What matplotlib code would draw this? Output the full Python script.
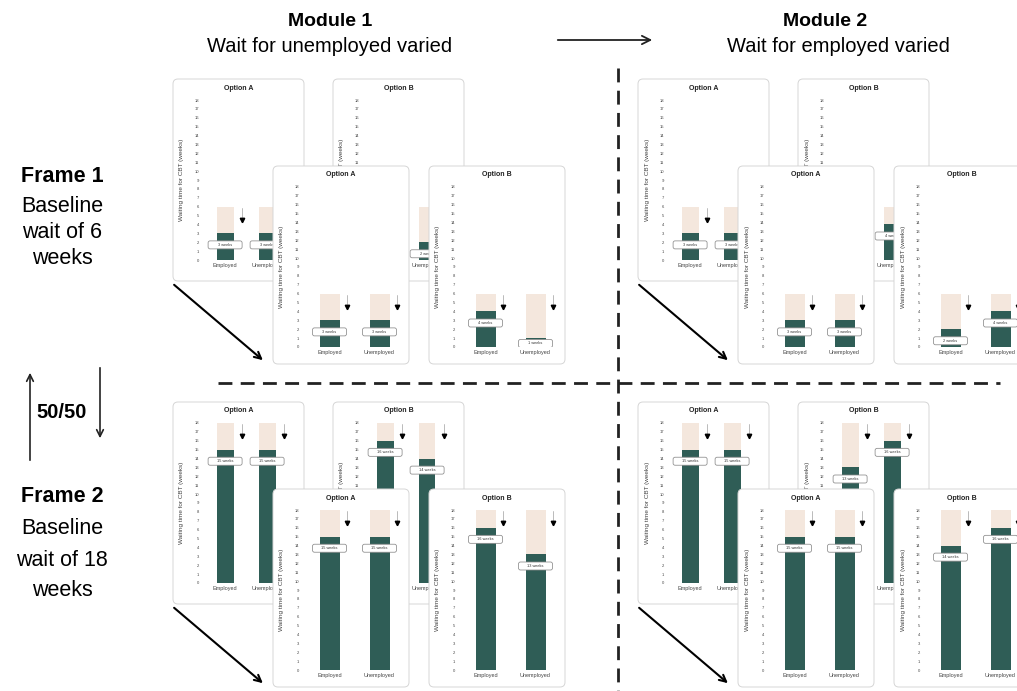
import matplotlib.pyplot as plt
from matplotlib.patches import FancyBboxPatch, FancyArrowPatch
from matplotlib.lines import Line2D

plt.rcParams['font.family'] = ['Liberation Sans', 'DejaVu Sans']

W, H = 1017, 691

# data
categories = ['Employed', 'Unemployed']
panel_titles = ['Option A', 'Option B', 'Option A', 'Option B']  # back A, back B, front A, front B
baseline_frame1 = 6
baseline_frame2 = 18
# waits in weeks [employed, unemployed] for back A, back B, front A, front B
module1_frame1 = [[3, 3], [4, 2], [3, 3], [4, 1]]
module2_frame1 = [[3, 3], [2, 4], [3, 3], [2, 4]]
module1_frame2 = [[15, 15], [16, 14], [15, 15], [16, 13]]
module2_frame2 = [[15, 15], [13, 16], [15, 15], [14, 16]]

DARK = '#2f5d56'
BEIGE = '#f4e7dd'

fig = plt.figure(figsize=(W / 100, H / 100), dpi=100)


def frect(x, y, w, h):
    return [x / W, 1 - (y + h) / H, w / W, h / H]


def fxy(x, y):
    return (x / W, 1 - y / H)


def panel(x0, y0, w, h, title, waits, base, unit, hidden_below=None):
    # the white card
    card = fig.add_axes(frect(x0, y0, w, h))
    card.set_xlim(0, w)
    card.set_ylim(0, h)
    card.set_axis_off()
    card.add_patch(FancyBboxPatch((1, 1), w - 2, h - 2,
                                  boxstyle='round,pad=0,rounding_size=5',
                                  fc='white', ec='#d6d6d6', lw=0.7))
    card.text(w / 2, h - 10, title, ha='center', va='center',
              fontsize=5, fontweight='bold', color='#222')
    card.text(10, h - 102, 'Waiting time for CBT (weeks)', rotation=90,
              ha='center', va='center', fontsize=4.6, color='#444')

    # the bar chart
    ax = fig.add_axes(frect(x0 + 30, y0 + 22, 2.15 * unit, 160))
    ax.patch.set_alpha(0)
    xs = [0, 1]
    ax.bar(xs, [base, base], width=0.4, color=BEIGE, zorder=1)
    ax.bar(xs, waits, width=0.4, color=DARK, zorder=2)
    ax.axhline(0, color='#bbbbbb', lw=0.5, ls=':', zorder=0)
    yu = 160 / 18
    for x, v in zip(xs, waits):
        ly = max(v - 1.3, 0.4)
        bw, bh = 34 / unit, 8 / yu
        ax.add_patch(FancyBboxPatch((x - bw / 2, ly - bh / 2), bw, bh,
                                    boxstyle='round,pad=0,rounding_size=%f' % (2 / unit),
                                    mutation_aspect=unit / yu,
                                    fc='white', ec='#8a8a8a', lw=0.55, zorder=3))
        ax.text(x, ly, f'{v} weeks', ha='center', va='center',
                fontsize=2.8, color='#333', zorder=4)
        xa = x + 17 / unit
        ax.plot([xa, xa], [base - 0.1, base - 1.2], color='#888', lw=0.4, zorder=3)
        ax.plot(xa, base - 1.5, marker='v', color='black', ms=3.2, zorder=4)
    ax.set_xlim(-0.55, 1.6)
    ax.set_ylim(0, 18)
    ticks = list(range(0, 19))
    ax.set_yticks(ticks)
    # labels that sit fully behind the front card are left blank
    ax.set_yticklabels(['' if hidden_below is not None and t < hidden_below else str(t)
                        for t in ticks])
    ax.set_xticks(xs)
    ax.set_xticklabels(['' if hidden_below is not None and i == 0 else c
                        for i, c in enumerate(categories)])
    ax.tick_params(axis='y', length=0, pad=2, labelsize=3, labelcolor='#444')
    ax.tick_params(axis='x', length=0, pad=2, labelsize=4, labelcolor='#444')
    for s in ax.spines.values():
        s.set_visible(False)


def quadrant(dx, dy, waits, base):
    spots = [(172, 78, 133, 204, 42, None), (332, 78, 133, 204, 42, 10.5),
             (272, 165, 138, 200, 50, None), (428, 165, 138, 200, 50, None)]
    for (x, y, w, h, u, hb), title, v in zip(spots, panel_titles, waits):
        panel(x + dx, y + dy, w, h, title, v, base, u, hb)
    arr = FancyArrowPatch(fxy(172 + dx, 283 + dy), fxy(265 + dx, 362 + dy),
                          transform=fig.transFigure, arrowstyle='->',
                          mutation_scale=12, lw=1.5, color='black')
    fig.add_artist(arr)


quadrant(0, 0, module1_frame1, baseline_frame1)
quadrant(465, 0, module2_frame1, baseline_frame1)
quadrant(0, 323, module1_frame2, baseline_frame2)
quadrant(465, 323, module2_frame2, baseline_frame2)

# headers
fig.text(*fxy(330, 21), 'Module 1', ha='center', va='center', fontsize=14, fontweight='bold')
fig.text(*fxy(330, 47), 'Wait for unemployed varied', ha='center', va='center', fontsize=14.5)
fig.text(*fxy(825, 21), 'Module 2', ha='center', va='center', fontsize=14, fontweight='bold')
fig.text(*fxy(838, 47), 'Wait for employed varied', ha='center', va='center', fontsize=14.5)
fig.add_artist(FancyArrowPatch(fxy(555, 40), fxy(655, 40), transform=fig.transFigure,
                               arrowstyle='->', mutation_scale=15, lw=1.3, color='#222'))

# frame labels
fig.text(*fxy(62, 176), 'Frame 1', ha='center', va='center', fontsize=15.5, fontweight='bold')
fig.text(*fxy(62, 206), 'Baseline', ha='center', va='center', fontsize=15.5)
fig.text(*fxy(62, 233), 'wait of 6', ha='center', va='center', fontsize=15.5)
fig.text(*fxy(62, 259), 'weeks', ha='center', va='center', fontsize=15.5)
fig.text(*fxy(62, 413), '50/50', ha='center', va='center', fontsize=14.5, fontweight='bold')
fig.text(*fxy(62, 497), 'Frame 2', ha='center', va='center', fontsize=15.5, fontweight='bold')
fig.text(*fxy(62, 528), 'Baseline', ha='center', va='center', fontsize=15.5)
fig.text(*fxy(62, 560), 'wait of 18', ha='center', va='center', fontsize=15.5)
fig.text(*fxy(62, 591), 'weeks', ha='center', va='center', fontsize=15.5)
fig.add_artist(FancyArrowPatch(fxy(30, 463), fxy(30, 370), transform=fig.transFigure,
                               arrowstyle='->', mutation_scale=12, lw=1.2, color='#222'))
fig.add_artist(FancyArrowPatch(fxy(100, 365), fxy(100, 441), transform=fig.transFigure,
                               arrowstyle='->', mutation_scale=12, lw=1.2, color='#222'))

# dashed dividers
fig.add_artist(Line2D([618 / W, 618 / W], [1 - 68 / H, 0], transform=fig.transFigure,
                      color='#222', lw=2, dashes=(5, 3)))
fig.add_artist(Line2D([218 / W, 1000 / W], [1 - 383 / H, 1 - 383 / H], transform=fig.transFigure,
                      color='#222', lw=2, dashes=(5, 3)))

fig.savefig('out.png', dpi=100)
